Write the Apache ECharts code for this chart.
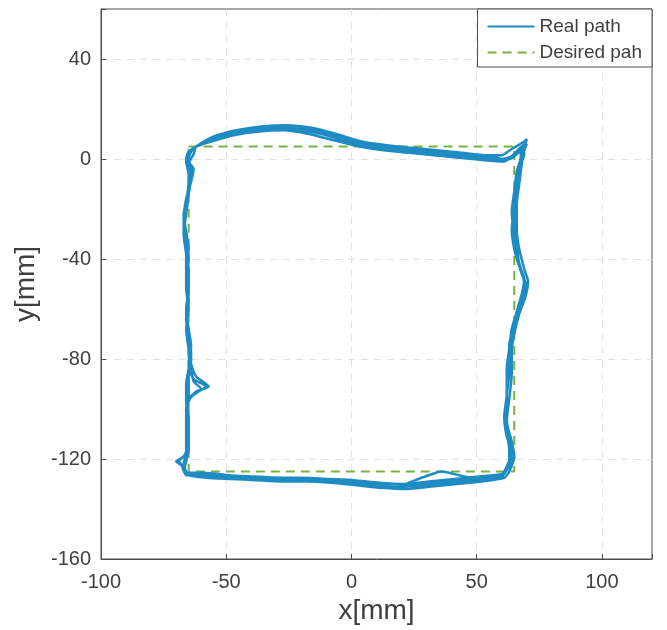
<!DOCTYPE html>
<html>
<head>
<meta charset="utf-8">
<script src="https://cdn.jsdelivr.net/npm/echarts@6/dist/echarts.min.js"></script>
<style>
html,body{margin:0;padding:0;background:#fff;}
#c{width:667px;height:630px;}
</style>
</head>
<body>
<div id="c"></div>
<script>
// Tick labels
var xTicks = [-100, -50, 0, 50, 100];
var yTicks = [-160, -120, -80, -40, 0, 40];

// Desired square path
var desiredPath = [[-65, 5], [65, 5], [65, -125], [-65, -125], [-65, 5]];

// Measured laps (x, y in mm)
var lap1 = [[-62,5],[-56,8],[-48,10.5],[-38,12],[-28,12.5],[-18,11.5],[-8,9],[2,6],[12,4.5],[22,3.5],[32,2.5],[42,1.5],[52,0.5],[60,0],[64,1],[67,3],[68,0],
  [67,-6],[66,-14],[65,-22],[65,-30],[66,-38],[68,-45],[69,-50],[68,-56],[66,-63],[64,-70],[63,-78],[63,-86],[62,-95],[62,-104],[63,-112],[64,-118],[62,-124],[60,-127],
  [50,-128],[40,-129],[30,-130],[20,-131],[10,-130.5],[0,-129.5],[-10,-128.5],[-20,-128.5],[-30,-128],[-40,-127.5],[-50,-127],[-60,-126.5],[-66,-126],
  [-67,-123],[-66,-117],[-66,-110],[-66,-102],[-65,-95],[-65,-88],[-64,-80],[-65,-72],[-66,-64],[-65,-56],[-66,-48],[-65,-40],[-66,-32],[-67,-26],[-66,-18],[-65,-10],[-64,-4],[-65,0],[-64,3],[-62,5]];

var lap2 = [[-62,5],[-55,9],[-46,11.5],[-36,13],[-26,13.5],[-16,12.5],[-6,10],[4,7],[14,5.5],[24,4.5],[34,3.5],[44,2.5],[54,1.5],[60,1.5],[64,4],[69,7],[70,8],[69,4],
  [68,-2],[67,-10],[66,-18],[66,-28],[67,-36],[69,-44],[70.5,-49],[69.5,-55],[67,-62],[65,-70],[64,-77],[64,-86],[63,-96],[62,-105],[64,-113],[65,-119],[63,-125],[61,-127.5],
  [52,-129],[42,-130],[32,-131],[22,-132],[12,-131.5],[2,-130.5],[-8,-129.5],[-18,-129],[-28,-129],[-38,-128.5],[-48,-128],[-58,-127.5],[-65,-126.5],
  [-67,-123],[-70,-121],[-67,-119],[-65,-114],[-65,-106],[-66,-100],[-65,-96],[-62,-93],[-57,-91],[-62,-87],[-64,-82],[-65,-76],[-66,-68],[-65,-60],[-66,-52],[-66,-44],[-65,-36],[-66,-29],[-67,-24],[-66,-16],[-64,-9],[-63,-4],[-66,0],[-65,3],[-62,5]];

var lap3 = [[-62,5],[-57,7.5],[-49,10],[-40,11.5],[-30,12],[-20,11.5],[-10,9.5],[0,6.5],[10,5],[20,4],[30,3],[40,2],[50,1],[58,0.5],[62,-0.5],[65,2],[68,5],[69,2],
  [67,-4],[66,-12],[65,-20],[64,-28],[65,-36],[67,-43],[69,-48],[68,-54],[66,-61],[64,-68],[63,-76],[62,-84],[62,-94],[61,-103],[62,-111],[64,-117],[62,-123],[60,-126],
  [48,-127.5],[36,-125],[28,-127.5],[18,-131],[8,-130],[-2,-129],[-12,-128],[-22,-128],[-32,-127.5],[-42,-127],[-52,-126.5],[-62,-126],[-67,-125],
  [-66,-121],[-65,-116],[-65,-108],[-66,-101],[-65,-96],[-61,-93],[-58,-91],[-63,-88],[-65,-82],[-64,-75],[-65,-68],[-66,-60],[-65,-52],[-65,-44],[-66,-36],[-67,-28],[-66,-20],[-65,-12],[-65,-6],[-66,-1],[-64,3],[-62,5]];

var lap4 = [[-62,5],[-56,7],[-47,9.5],[-37,11],[-27,11.5],[-17,10],[-7,7.5],[3,5],[13,3.5],[23,2.5],[33,1.5],[43,0.5],[53,-0.5],[61,-1],[66,3],[70,6],[68,1],
  [66,-5],[65,-13],[64,-21],[65,-31],[66,-39],[68,-46],[70,-51],[68,-57],[66,-64],[64,-71],[63,-79],[62,-88],[62,-97],[62,-106],[63,-113],[64,-120],[61,-126],[59,-127.5],
  [49,-128.5],[39,-129.5],[29,-130.5],[19,-131],[9,-130.5],[-1,-129.5],[-11,-129],[-21,-128.5],[-31,-128.5],[-41,-128],[-51,-127],[-61,-126.5],[-66,-126.5],
  [-68,-122],[-69,-121],[-66,-118],[-65,-112],[-66,-104],[-65,-97],[-63,-94],[-60,-92],[-63,-89],[-64,-84],[-65,-78],[-65,-70],[-66,-62],[-65,-54],[-66,-46],[-66,-38],[-66,-30],[-67,-22],[-65,-14],[-64,-7],[-65,-2],[-63,2],[-62,5]];

var lap5 = [[-62,5],[-55,8],[-47,10.5],[-38,12.5],[-29,13],[-19,12],[-9,10],[1,7],[11,5],[21,3.5],[31,2.5],[41,1.5],[51,0.5],[59,0],[63,0],[66,2],[69,6],[68,3],
  [67,-3],[66,-11],[65,-19],[65,-27],[66,-35],[67,-42],[69,-48],[69,-53],[67,-60],[65,-67],[63,-74],[63,-83],[62,-92],[62,-101],[62,-109],[63,-116],[63,-122],[60,-126],
  [51,-127],[41,-128],[31,-129],[21,-130],[11,-129.5],[1,-128.5],[-9,-128],[-19,-127.5],[-29,-127.5],[-39,-127],[-49,-126.5],[-59,-125.5],[-66,-125.5],
  [-67,-122],[-66,-118],[-65,-111],[-65,-103],[-66,-97],[-66,-90],[-65,-84],[-64,-78],[-65,-70],[-66,-62],[-65,-54],[-65,-46],[-66,-38],[-67,-30],[-66,-22],[-65,-14],[-64,-6],[-66,-1],[-64,3],[-62,5]];

var realPath = [].concat(lap1, lap2, lap3, lap4, lap5);

var textColor = '#404040';
var axisColor = '#4d4d4d';
var font = 'Liberation Sans, Helvetica, Arial, sans-serif';

var chart = echarts.init(document.getElementById('c'), null, {renderer: 'canvas'});
chart.setOption({
  backgroundColor: '#ffffff',
  animation: false,
  grid: {left: 101, top: 9, right: 15, bottom: 71, show: true, borderColor: axisColor, borderWidth: 1, backgroundColor: '#fff'},
  legend: {
    orient: 'vertical', right: 15, top: 9,
    borderColor: axisColor, borderWidth: 1, backgroundColor: '#fff',
    padding: [8, 10, 5, 9], itemGap: 7, itemWidth: 47, itemHeight: 12,
    itemStyle: {opacity: 0},
    textStyle: {fontSize: 19, color: textColor, fontFamily: font},
    data: ['Real path', 'Desired pah']
  },
  xAxis: {
    type: 'value', min: -100, max: 120, interval: 50,
    name: 'x[mm]', nameLocation: 'middle', nameGap: 31,
    nameTextStyle: {fontSize: 28, color: textColor, fontFamily: font},
    axisLine: {show: true, onZero: false, lineStyle: {color: axisColor, width: 1}},
    axisTick: {show: true, inside: true, length: 5, lineStyle: {color: axisColor}},
    axisLabel: {fontSize: 20, color: textColor, fontFamily: font, margin: 13,
      formatter: function (v) { return xTicks.indexOf(v) >= 0 ? String(v) : ''; }},
    splitLine: {show: true, showMinLine: false, showMaxLine: false, lineStyle: {color: '#e2e2e2', type: [7, 6], width: 1}}
  },
  yAxis: {
    type: 'value', min: -160, max: 60, interval: 40,
    name: 'y[mm]', nameLocation: 'middle', nameGap: 58,
    nameTextStyle: {fontSize: 28, color: textColor, fontFamily: font},
    axisLine: {show: true, onZero: false, lineStyle: {color: axisColor, width: 1}},
    axisTick: {show: true, inside: true, length: 5, lineStyle: {color: axisColor}},
    axisLabel: {fontSize: 20, color: textColor, fontFamily: font, margin: 10,
      formatter: function (v) { return yTicks.indexOf(v) >= 0 ? String(v) : ''; }},
    splitLine: {show: true, showMinLine: false, showMaxLine: false, lineStyle: {color: '#e2e2e2', type: [7, 6], width: 1}}
  },
  series: [
    {
      name: 'Real path', type: 'line', data: realPath, showSymbol: false, symbol: 'none',
      smooth: 0.2, lineStyle: {color: '#1f8bc3', width: 2.5}, itemStyle: {color: '#1f8bc3'}, z: 3
    },
    {
      name: 'Desired pah', type: 'line', data: desiredPath, showSymbol: false, symbol: 'none',
      lineStyle: {color: '#77b140', width: 2, type: [9, 6]}, itemStyle: {color: '#77b140'}, z: 2
    }
  ]
});
</script>
</body>
</html>
